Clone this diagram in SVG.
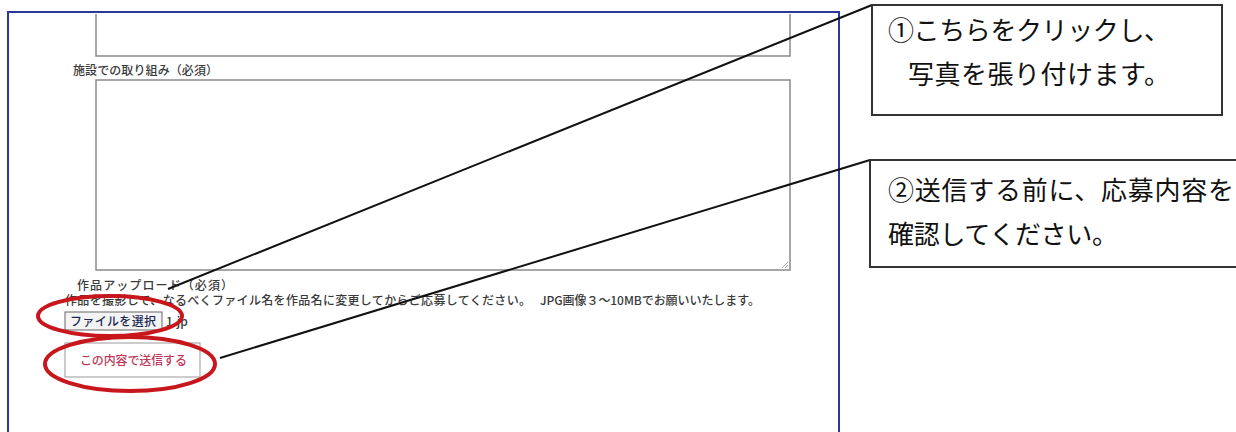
<svg xmlns="http://www.w3.org/2000/svg" width="1236" height="432" viewBox="0 0 1236 432">
<style>
.small{font-family:"Noto Sans CJK JP","Liberation Sans",sans-serif;font-size:12px;font-weight:500;fill:#3a3a3a;}
.call{font-family:"Noto Sans CJK JP","Liberation Sans",sans-serif;font-size:26px;fill:#111;}
.ta{fill:#fff;stroke:#8a8a8a;stroke-width:1.5;}
.ring{fill:none;stroke:#c8171c;stroke-width:4;}
.box{fill:#fff;stroke:#333;stroke-width:2;}
.conn{stroke:#111;stroke-width:2;fill:none;}
</style>
<rect width="1236" height="432" fill="#fff"/>
<g id="form">
<rect x="8" y="12" width="831" height="440" fill="#fff" stroke="#2b3a9a" stroke-width="2"/>
<path class="ta" d="M96,14 V56 H790 V14"/>
<text class="small" x="73" y="75" textLength="145">施設での取り組み（必須）</text>
<rect class="ta" x="96" y="80" width="694" height="190"/>
<path d="M782,268 L788,262 M785,268 L788,265" stroke="#aaa" stroke-width="1"/>
<text class="small" x="77" y="290" textLength="156">作品アップロード（必須）</text>
<text class="small" x="65" y="305" textLength="466">作品を撮影して、なるべくファイル名を作品名に変更してからご応募してください。</text>
<text class="small" x="540" y="305" textLength="220">JPG画像３～10MBでお願いいたします。</text>
<rect x="65" y="312" width="97" height="18" fill="#f4f4f4" stroke="#666" stroke-width="1"/>
<text class="small" x="70" y="326" textLength="86" style="fill:#1a2a55">ファイルを選択</text>
<text class="small" x="166" y="326">1.jp</text>
<rect x="65" y="343" width="135" height="34" fill="#fff" stroke="#999" stroke-width="1"/>
<text class="small" x="80" y="365" textLength="107" style="fill:#c0395a">この内容で送信する</text>
</g>
<g id="highlight-file"><ellipse class="ring" cx="110" cy="316" rx="72" ry="20"/></g>
<g id="highlight-send"><ellipse class="ring" cx="130" cy="364" rx="85" ry="27"/></g>
<g id="connectors">
<line class="conn" x1="168" y1="289" x2="872" y2="5"/>
<line class="conn" x1="220" y1="358" x2="870" y2="160"/>
</g>
<g id="callout1">
<rect class="box" x="872" y="5" width="350" height="110"/>
<text class="call" x="888" y="40" textLength="282">①こちらをクリックし、</text>
<text class="call" x="908" y="84" textLength="262">写真を張り付けます。</text>
</g>
<g id="callout2">
<rect class="box" x="870" y="160" width="380" height="107"/>
<text class="call" x="888" y="200" textLength="346">②送信する前に、応募内容を</text>
<text class="call" x="888" y="244" textLength="230">確認してください。</text>
</g>
</svg>
